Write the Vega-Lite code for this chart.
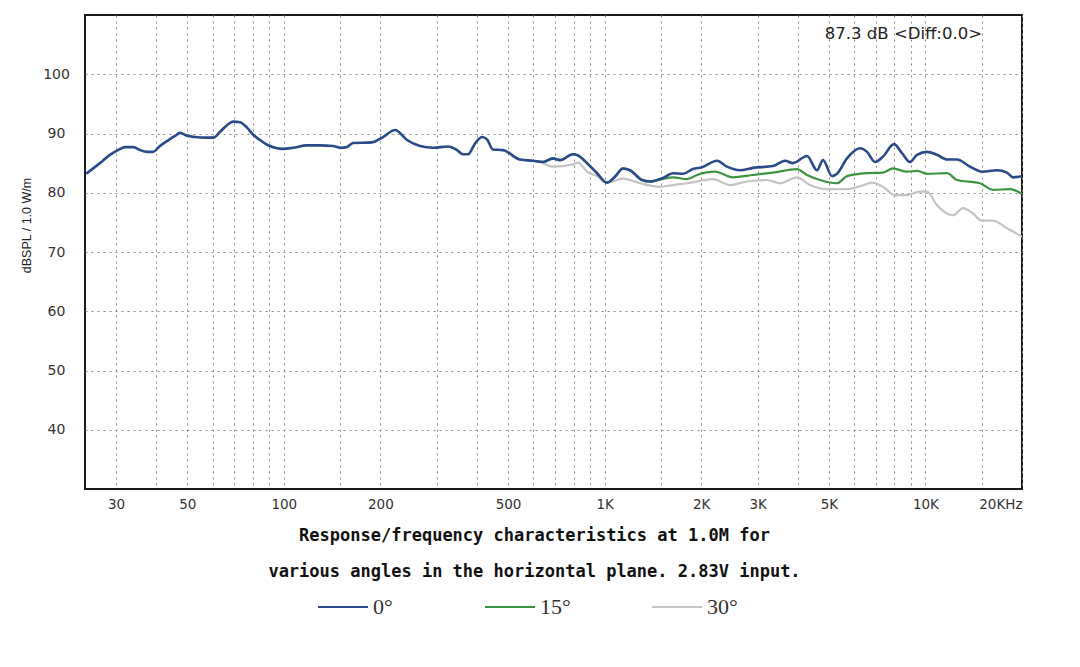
{
  "$schema": "https://vega.github.io/schema/vega-lite/v6.json",
  "width": 937,
  "height": 474,
  "autosize": {"type": "none"},
  "padding": {"left": 85, "top": 15, "right": 58, "bottom": 178},
  "background": "white",
  "title": {
    "text": "87.3   dB <Diff:0.0>",
    "orient": "top",
    "anchor": "end",
    "frame": "group",
    "offset": -40,
    "dx": -40,
    "baseline": "alphabetic",
    "font": "DejaVu Sans",
    "fontSize": 16.5,
    "fontWeight": "normal",
    "color": "#222"
  },
  "config": {
    "view": {"stroke": "#1a1a1a", "strokeWidth": 2},
    "axis": {
      "grid": true,
      "gridColor": "#8a8a8a",
      "gridDash": [2, 4],
      "gridWidth": 1,
      "domain": false,
      "ticks": false,
      "tickSize": 0,
      "labelFont": "DejaVu Sans",
      "labelColor": "#333",
      "labelOverlap": false
    }
  },
  "data": {
    "values": [
      {"angle": "0°", "f": 24.2, "db": 83.2},
      {"angle": "0°", "f": 26.7, "db": 85.0},
      {"angle": "0°", "f": 28.7, "db": 86.4},
      {"angle": "0°", "f": 30.4, "db": 87.2},
      {"angle": "0°", "f": 32.0, "db": 87.7},
      {"angle": "0°", "f": 33.9, "db": 87.7},
      {"angle": "0°", "f": 35.6, "db": 87.2},
      {"angle": "0°", "f": 37.5, "db": 86.9},
      {"angle": "0°", "f": 39.1, "db": 86.9},
      {"angle": "0°", "f": 41.1, "db": 87.9},
      {"angle": "0°", "f": 43.2, "db": 88.7},
      {"angle": "0°", "f": 45.8, "db": 89.6},
      {"angle": "0°", "f": 47.5, "db": 90.1},
      {"angle": "0°", "f": 49.9, "db": 89.6},
      {"angle": "0°", "f": 52.9, "db": 89.4},
      {"angle": "0°", "f": 56.8, "db": 89.3},
      {"angle": "0°", "f": 60.2, "db": 89.3},
      {"angle": "0°", "f": 63.3, "db": 90.3},
      {"angle": "0°", "f": 66.5, "db": 91.4},
      {"angle": "0°", "f": 69.5, "db": 92.0},
      {"angle": "0°", "f": 73.0, "db": 91.9},
      {"angle": "0°", "f": 76.8, "db": 91.0},
      {"angle": "0°", "f": 80.2, "db": 89.8},
      {"angle": "0°", "f": 84.3, "db": 88.9},
      {"angle": "0°", "f": 88.7, "db": 88.1},
      {"angle": "0°", "f": 93.9, "db": 87.6},
      {"angle": "0°", "f": 99.4, "db": 87.4},
      {"angle": "0°", "f": 106.9, "db": 87.6},
      {"angle": "0°", "f": 118, "db": 88.0},
      {"angle": "0°", "f": 129.6, "db": 88.0},
      {"angle": "0°", "f": 142.3, "db": 87.9},
      {"angle": "0°", "f": 149.7, "db": 87.6},
      {"angle": "0°", "f": 157, "db": 87.7},
      {"angle": "0°", "f": 164.3, "db": 88.4},
      {"angle": "0°", "f": 188.3, "db": 88.5},
      {"angle": "0°", "f": 203.8, "db": 89.4},
      {"angle": "0°", "f": 222.1, "db": 90.6},
      {"angle": "0°", "f": 242.1, "db": 88.9},
      {"angle": "0°", "f": 265.8, "db": 87.9},
      {"angle": "0°", "f": 291.8, "db": 87.6},
      {"angle": "0°", "f": 324.9, "db": 87.8},
      {"angle": "0°", "f": 346.5, "db": 87.2},
      {"angle": "0°", "f": 361.9, "db": 86.5},
      {"angle": "0°", "f": 375.2, "db": 86.5},
      {"angle": "0°", "f": 394.4, "db": 88.3},
      {"angle": "0°", "f": 414.8, "db": 89.4},
      {"angle": "0°", "f": 429.9, "db": 89.0},
      {"angle": "0°", "f": 448.8, "db": 87.3},
      {"angle": "0°", "f": 482.2, "db": 87.2},
      {"angle": "0°", "f": 544.8, "db": 85.6},
      {"angle": "0°", "f": 598.1, "db": 85.4},
      {"angle": "0°", "f": 642.6, "db": 85.2},
      {"angle": "0°", "f": 690.2, "db": 85.8},
      {"angle": "0°", "f": 725.7, "db": 85.5},
      {"angle": "0°", "f": 796.9, "db": 86.5},
      {"angle": "0°", "f": 826.0, "db": 86.3},
      {"angle": "0°", "f": 881.1, "db": 85.0},
      {"angle": "0°", "f": 946.8, "db": 83.3},
      {"angle": "0°", "f": 1017, "db": 81.7},
      {"angle": "0°", "f": 1077, "db": 82.7},
      {"angle": "0°", "f": 1141, "db": 84.1},
      {"angle": "0°", "f": 1200, "db": 83.8},
      {"angle": "0°", "f": 1308, "db": 82.15},
      {"angle": "0°", "f": 1385, "db": 81.9},
      {"angle": "0°", "f": 1520, "db": 82.5},
      {"angle": "0°", "f": 1634, "db": 83.3},
      {"angle": "0°", "f": 1755, "db": 83.2},
      {"angle": "0°", "f": 1886, "db": 84.0},
      {"angle": "0°", "f": 2012, "db": 84.3},
      {"angle": "0°", "f": 2240, "db": 85.4},
      {"angle": "0°", "f": 2407, "db": 84.4},
      {"angle": "0°", "f": 2642, "db": 83.8},
      {"angle": "0°", "f": 2901, "db": 84.2},
      {"angle": "0°", "f": 3348, "db": 84.5},
      {"angle": "0°", "f": 3651, "db": 85.4},
      {"angle": "0°", "f": 3866, "db": 85.0},
      {"angle": "0°", "f": 4275, "db": 86.2},
      {"angle": "0°", "f": 4592, "db": 83.8},
      {"angle": "0°", "f": 4795, "db": 85.5},
      {"angle": "0°", "f": 5115, "db": 82.8},
      {"angle": "0°", "f": 5302, "db": 83.2},
      {"angle": "0°", "f": 5695, "db": 85.8},
      {"angle": "0°", "f": 6252, "db": 87.5},
      {"angle": "0°", "f": 6575, "db": 86.9},
      {"angle": "0°", "f": 6963, "db": 85.2},
      {"angle": "0°", "f": 7375, "db": 86.1},
      {"angle": "0°", "f": 7979, "db": 88.2},
      {"angle": "0°", "f": 8452, "db": 86.7},
      {"angle": "0°", "f": 8953, "db": 85.2},
      {"angle": "0°", "f": 9413, "db": 86.4},
      {"angle": "0°", "f": 10114, "db": 86.9},
      {"angle": "0°", "f": 10867, "db": 86.4},
      {"angle": "0°", "f": 11674, "db": 85.6},
      {"angle": "0°", "f": 12543, "db": 85.6},
      {"angle": "0°", "f": 13769, "db": 84.4},
      {"angle": "0°", "f": 15010, "db": 83.55},
      {"angle": "0°", "f": 16719, "db": 83.8},
      {"angle": "0°", "f": 17961, "db": 83.4},
      {"angle": "0°", "f": 18751, "db": 82.6},
      {"angle": "0°", "f": 20000, "db": 82.8},

      {"angle": "15°", "f": 598.1, "db": 85.4},
      {"angle": "15°", "f": 642.6, "db": 85.2},
      {"angle": "15°", "f": 690.2, "db": 85.8},
      {"angle": "15°", "f": 725.7, "db": 85.5},
      {"angle": "15°", "f": 796.9, "db": 86.5},
      {"angle": "15°", "f": 826.0, "db": 86.3},
      {"angle": "15°", "f": 881.1, "db": 85.0},
      {"angle": "15°", "f": 946.8, "db": 83.3},
      {"angle": "15°", "f": 1017, "db": 81.7},
      {"angle": "15°", "f": 1077, "db": 82.7},
      {"angle": "15°", "f": 1141, "db": 84.1},
      {"angle": "15°", "f": 1200, "db": 83.8},
      {"angle": "15°", "f": 1308, "db": 82.15},
      {"angle": "15°", "f": 1385, "db": 81.9},
      {"angle": "15°", "f": 1509, "db": 82.3},
      {"angle": "15°", "f": 1634, "db": 82.6},
      {"angle": "15°", "f": 1806, "db": 82.3},
      {"angle": "15°", "f": 1941, "db": 83.0},
      {"angle": "15°", "f": 2208, "db": 83.55},
      {"angle": "15°", "f": 2513, "db": 82.6},
      {"angle": "15°", "f": 2901, "db": 83.0},
      {"angle": "15°", "f": 3348, "db": 83.4},
      {"angle": "15°", "f": 3979, "db": 84.0},
      {"angle": "15°", "f": 4275, "db": 83.0},
      {"angle": "15°", "f": 4694, "db": 82.15},
      {"angle": "15°", "f": 5302, "db": 81.6},
      {"angle": "15°", "f": 5695, "db": 82.8},
      {"angle": "15°", "f": 6575, "db": 83.3},
      {"angle": "15°", "f": 7375, "db": 83.4},
      {"angle": "15°", "f": 7923, "db": 84.1},
      {"angle": "15°", "f": 8762, "db": 83.55},
      {"angle": "15°", "f": 9413, "db": 83.7},
      {"angle": "15°", "f": 10114, "db": 83.2},
      {"angle": "15°", "f": 11674, "db": 83.3},
      {"angle": "15°", "f": 12543, "db": 82.15},
      {"angle": "15°", "f": 14797, "db": 81.6},
      {"angle": "15°", "f": 16246, "db": 80.5},
      {"angle": "15°", "f": 18353, "db": 80.6},
      {"angle": "15°", "f": 20000, "db": 79.8},

      {"angle": "30°", "f": 544.8, "db": 85.6},
      {"angle": "30°", "f": 628.8, "db": 85.2},
      {"angle": "30°", "f": 690.2, "db": 84.4},
      {"angle": "30°", "f": 796.9, "db": 84.8},
      {"angle": "30°", "f": 826.0, "db": 85.1},
      {"angle": "30°", "f": 881.1, "db": 83.55},
      {"angle": "30°", "f": 946.8, "db": 82.8},
      {"angle": "30°", "f": 1017, "db": 81.7},
      {"angle": "30°", "f": 1141, "db": 82.4},
      {"angle": "30°", "f": 1289, "db": 81.6},
      {"angle": "30°", "f": 1488, "db": 81.0},
      {"angle": "30°", "f": 1634, "db": 81.3},
      {"angle": "30°", "f": 1806, "db": 81.6},
      {"angle": "30°", "f": 1983, "db": 82.0},
      {"angle": "30°", "f": 2177, "db": 82.3},
      {"angle": "30°", "f": 2459, "db": 81.3},
      {"angle": "30°", "f": 2778, "db": 81.9},
      {"angle": "30°", "f": 3207, "db": 82.15},
      {"angle": "30°", "f": 3520, "db": 81.6},
      {"angle": "30°", "f": 3979, "db": 82.6},
      {"angle": "30°", "f": 4368, "db": 81.3},
      {"angle": "30°", "f": 4934, "db": 80.6},
      {"angle": "30°", "f": 5695, "db": 80.6},
      {"angle": "30°", "f": 6252, "db": 81.1},
      {"angle": "30°", "f": 6815, "db": 81.7},
      {"angle": "30°", "f": 7375, "db": 81.0},
      {"angle": "30°", "f": 8038, "db": 79.6},
      {"angle": "30°", "f": 8762, "db": 79.6},
      {"angle": "30°", "f": 9619, "db": 80.2},
      {"angle": "30°", "f": 10114, "db": 80.2},
      {"angle": "30°", "f": 10867, "db": 77.9},
      {"angle": "30°", "f": 12188, "db": 76.2},
      {"angle": "30°", "f": 13094, "db": 77.4},
      {"angle": "30°", "f": 14071, "db": 76.5},
      {"angle": "30°", "f": 15010, "db": 75.3},
      {"angle": "30°", "f": 16246, "db": 75.3},
      {"angle": "30°", "f": 17961, "db": 74.0},
      {"angle": "30°", "f": 20000, "db": 72.6}
    ]
  },
  "encoding": {
    "x": {
      "field": "f",
      "type": "quantitative",
      "scale": {"type": "log", "domain": [24, 20000], "nice": false},
      "axis": {
        "values": [30, 40, 50, 60, 70, 80, 90, 100, 150, 200, 300, 400, 500, 600, 700, 800, 900, 1000, 1500, 2000, 3000, 4000, 5000, 6000, 7000, 8000, 9000, 10000, 15000, 20000],
        "labelExpr": "indexof([30, 50, 100, 200, 500, 1000, 2000, 3000, 5000, 10000, 20000], datum.value) < 0 ? '' : datum.value == 20000 ? '20KHz' : datum.value >= 1000 ? (datum.value / 1000) + 'K' : '' + datum.value",
        "labelFontSize": 13.5,
        "labelPadding": 8,
        "title": ["Response/frequency characteristics at 1.0M for", "various angles in the horizontal plane. 2.83V input."],
        "titleFont": "DejaVu Sans Mono",
        "titleFontSize": 17,
        "titleFontWeight": "bold",
        "titleColor": "#111",
        "titleX": 449,
        "titleY": 46,
        "titleAlign": "center",
        "titleBaseline": "middle",
        "titleLineHeight": 36
      }
    },
    "y": {
      "field": "db",
      "type": "quantitative",
      "scale": {"domain": [30, 110], "nice": false, "zero": false},
      "axis": {
        "values": [40, 50, 60, 70, 80, 90, 100],
        "labelFontSize": 14,
        "labelAlign": "center",
        "labelPadding": 29,
        "title": "dBSPL / 1.0 W/m",
        "titleFont": "Liberation Sans",
        "titleFontSize": 12.5,
        "titleFontWeight": "normal",
        "titleColor": "#222",
        "titleAngle": -90,
        "titleX": -52,
        "titleY": 210
      }
    },
    "color": {
      "field": "angle",
      "type": "nominal",
      "scale": {"domain": ["0°", "15°", "30°"], "range": ["#2a4a8a", "#3a9440", "#c4c4c4"]},
      "legend": {
        "orient": "none",
        "legendX": 232,
        "legendY": 566,
        "direction": "horizontal",
        "title": null,
        "symbolType": "stroke",
        "symbolSize": 2500,
        "symbolStrokeWidth": 2,
        "labelFont": "Liberation Serif",
        "labelFontSize": 22,
        "labelColor": "#333",
        "labelOffset": 4,
        "columnPadding": 77,
        "gridAlign": "all"
      }
    }
  },
  "layer": [
    {
      "transform": [{"filter": "datum.angle == '30°'"}],
      "mark": {"type": "line", "interpolate": "monotone", "strokeWidth": 2.2, "strokeJoin": "round"}
    },
    {
      "transform": [{"filter": "datum.angle == '15°'"}],
      "mark": {"type": "line", "interpolate": "monotone", "strokeWidth": 2.2, "strokeJoin": "round"}
    },
    {
      "transform": [{"filter": "datum.angle == '0°'"}],
      "mark": {"type": "line", "interpolate": "monotone", "strokeWidth": 2.6, "strokeJoin": "round"}
    }
  ]
}
